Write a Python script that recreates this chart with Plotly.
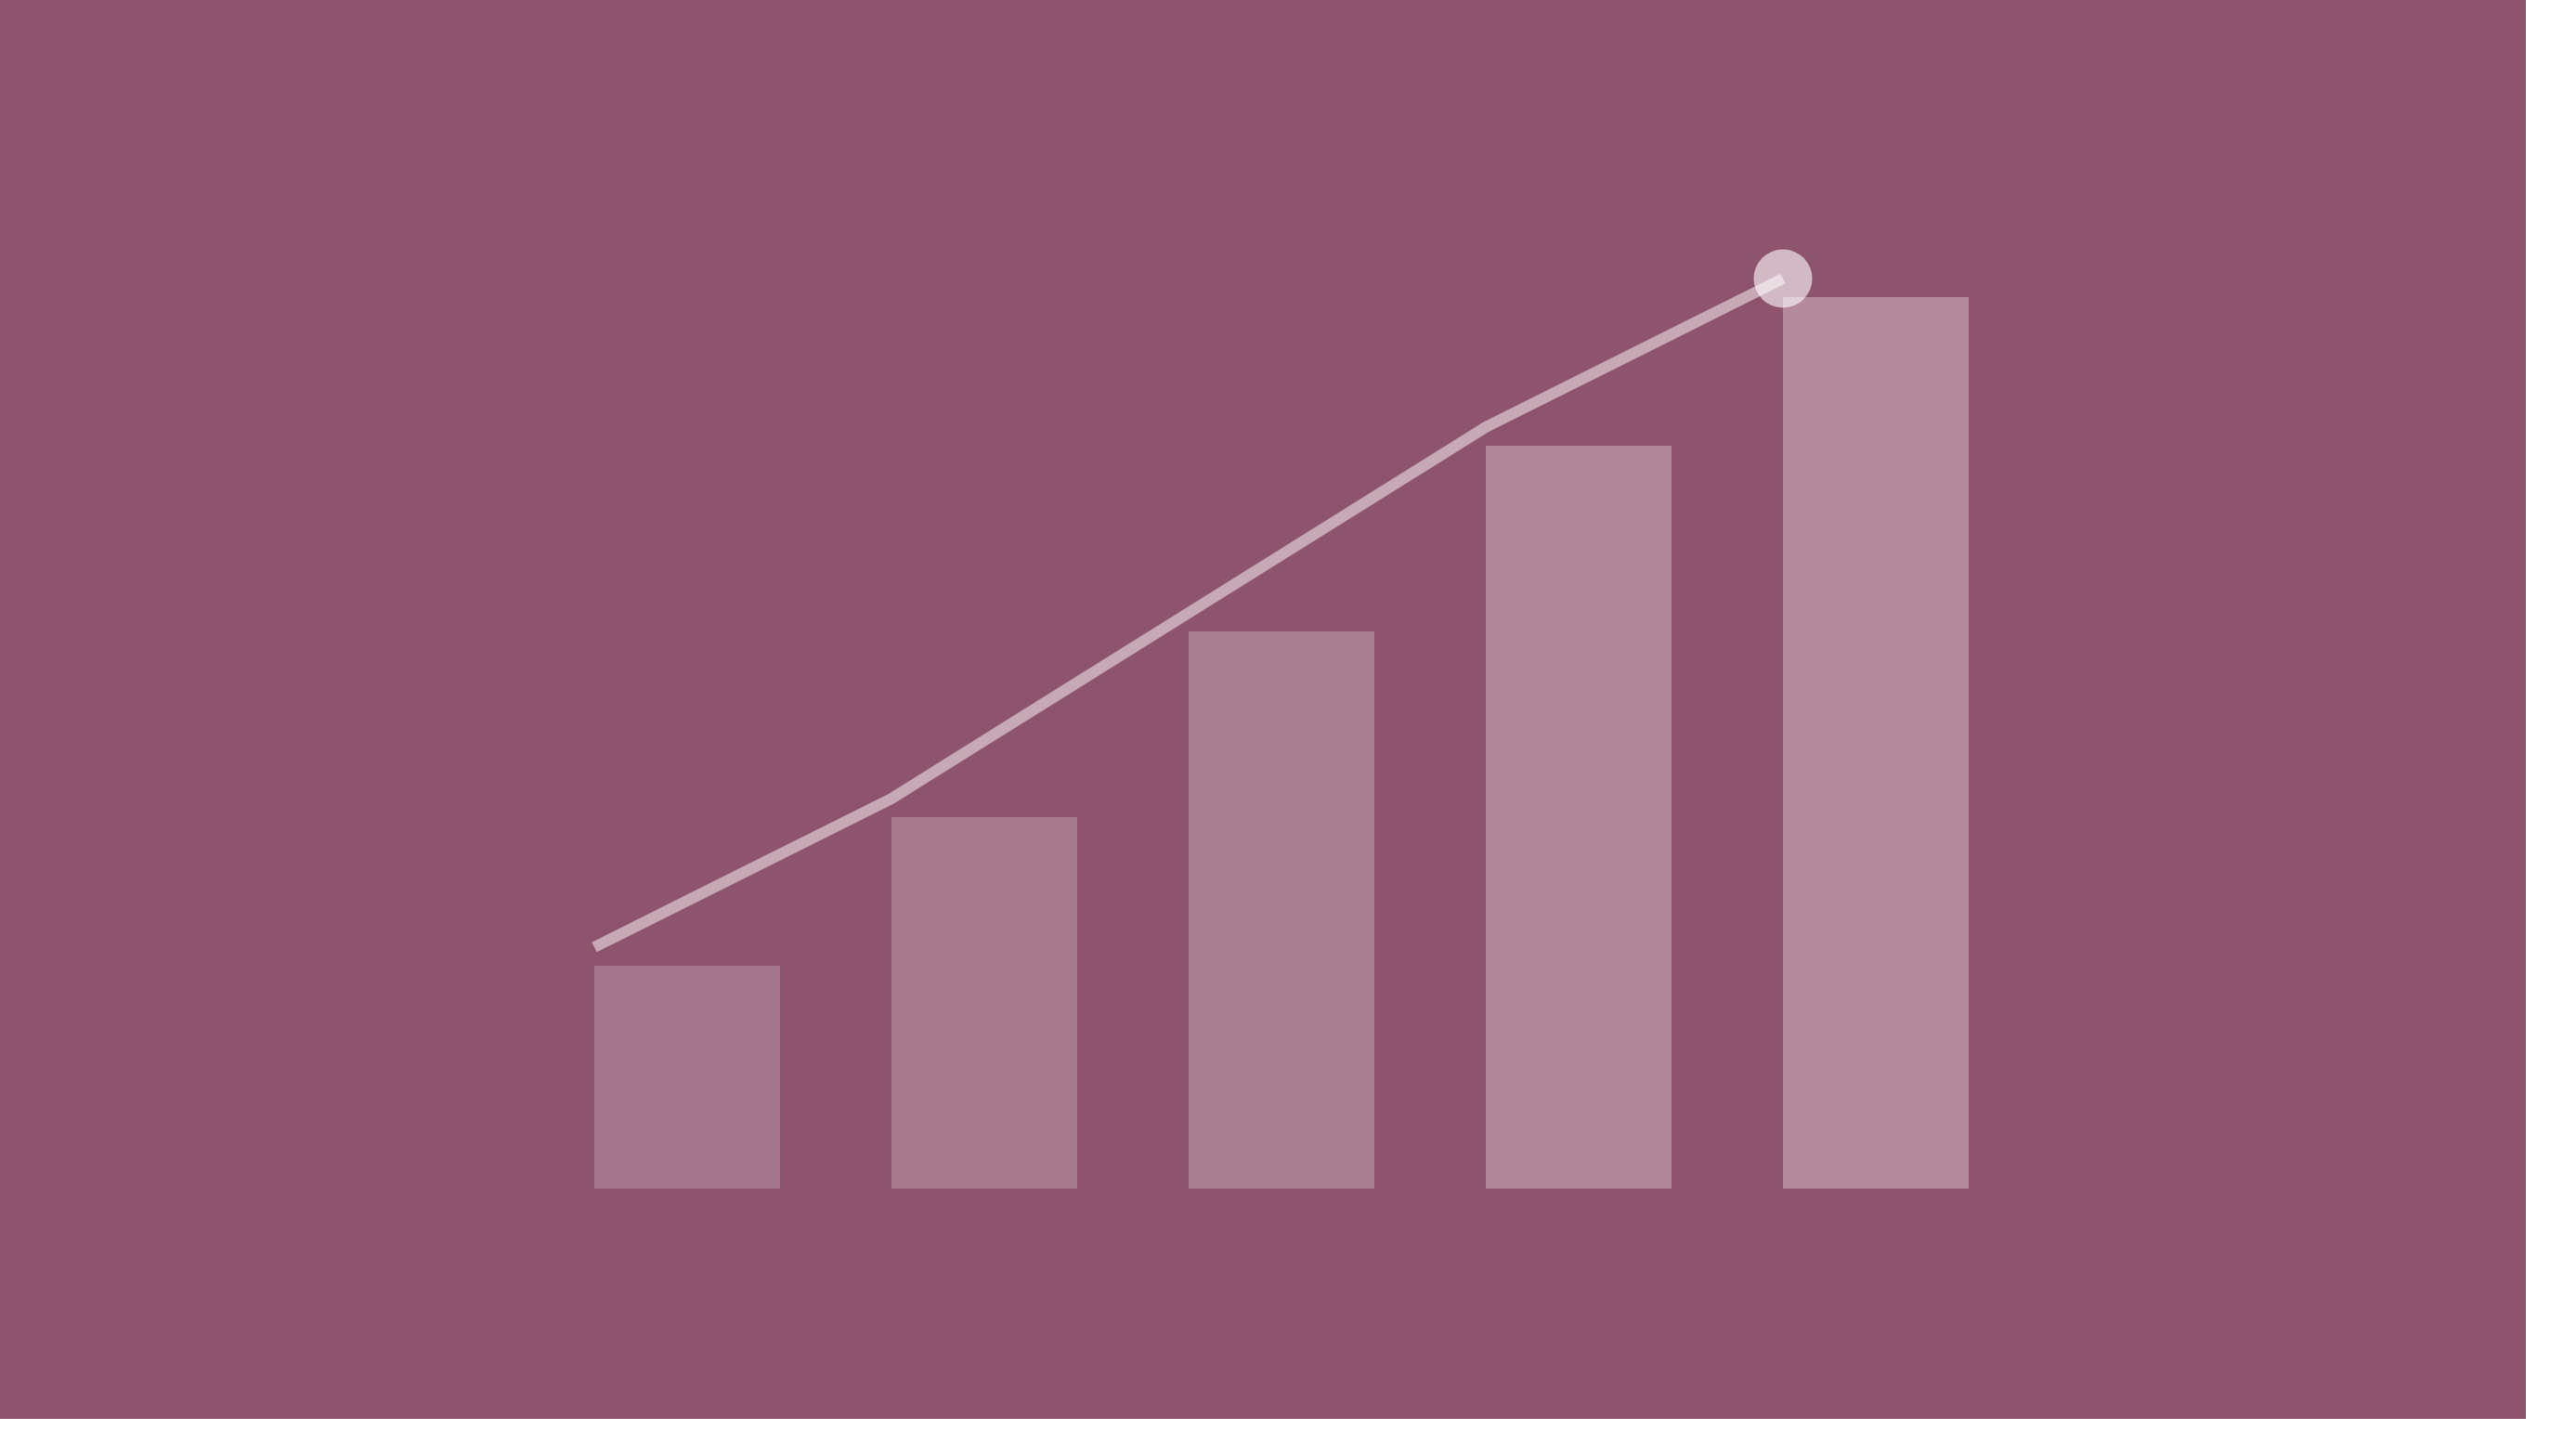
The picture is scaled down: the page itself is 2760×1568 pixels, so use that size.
import plotly.graph_objects as go

# growth chart: 5 bars with a trend line running just above their left corners
steps = [0, 1, 2, 3, 4]
bar_values = [12, 20, 30, 40, 48]
line_values = [13, 21, 31, 41, 49]

bg = '#8E536D'
bar_alphas = [0.2, 0.23, 0.26, 0.3, 0.33]

fig = go.Figure()

fig.add_trace(go.Bar(
    x=steps,
    y=bar_values,
    width=0.625,
    offset=0,
    marker=dict(
        color=[f'rgba(255,255,255,{a})' for a in bar_alphas],
        line=dict(width=0)
    ),
    hoverinfo='skip'
))

# highlight dot on the last point
fig.add_trace(go.Scatter(
    x=steps[-1:],
    y=line_values[-1:],
    mode='markers',
    marker=dict(size=63, color='rgba(255,255,255,0.6)', line=dict(width=0)),
    hoverinfo='skip'
))

fig.add_trace(go.Scatter(
    x=steps,
    y=line_values,
    mode='lines',
    line=dict(color='rgba(255,255,255,0.5)', width=12),
    hoverinfo='skip'
))

fig.update_layout(
    width=2720,
    height=1528,
    margin=dict(l=0, r=0, t=0, b=0),
    paper_bgcolor=bg,
    plot_bgcolor=bg,
    showlegend=False,
    xaxis=dict(range=[-2, 6.5], visible=False, fixedrange=True),
    yaxis=dict(range=[-12.4, 64], visible=False, fixedrange=True),
)

# page body has a default 8px margin, the chart sits flush at the top-left
fig.write_html("out.html", config={'displayModeBar': False},
               post_script="document.body.style.margin='0';")
